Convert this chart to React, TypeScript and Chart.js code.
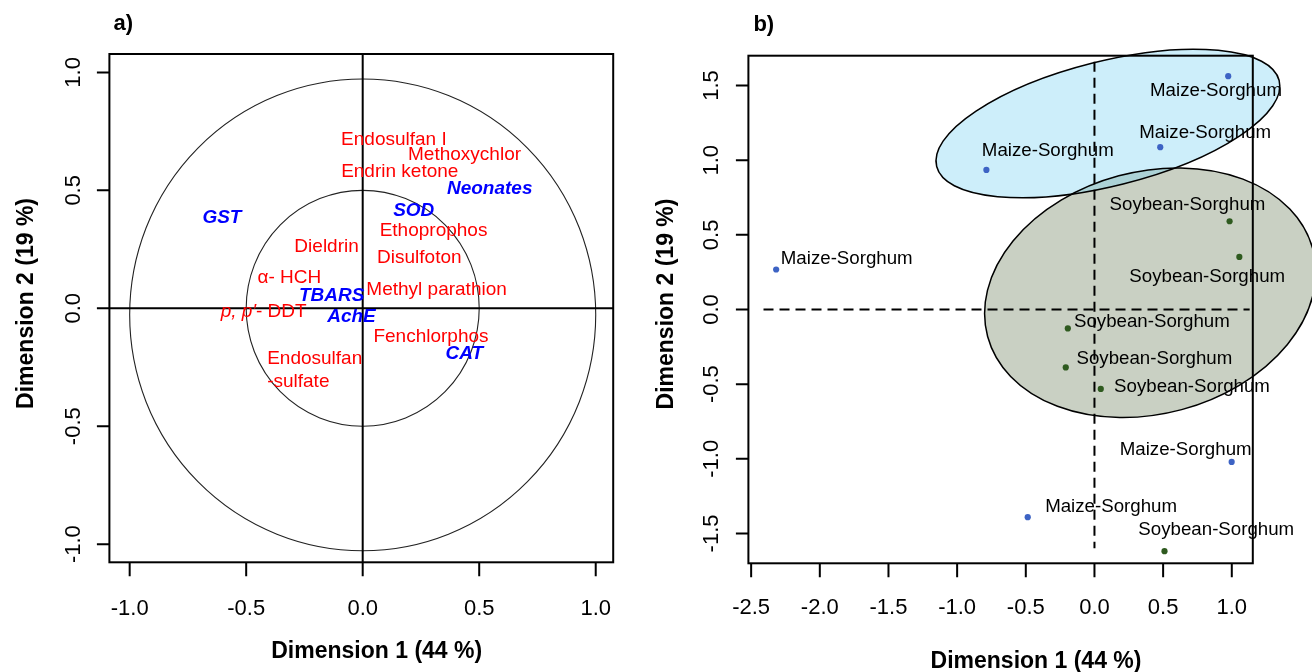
import React, { useEffect, useRef } from 'react';
import { Chart, registerables } from 'chart.js';

Chart.register(...registerables);

const FAMILY = '"Liberation Sans", Arial, sans-serif';
const CAP = 0.35;

// ---------------- Panel a) : variables factor map ----------------
const VAR_NAMES = [
  'Endosulfan I', 'Methoxychlor', 'Endrin ketone', 'Neonates', 'SOD', 'GST',
  'Ethoprophos', 'Dieldrin', 'Disulfoton', 'α- HCH', 'TBARS', 'Methyl parathion',
  'p, p′- DDT', 'AchE', 'Fenchlorphos', 'CAT', 'Endosulfan\n-sulfate',
];
const VAR_ITALIC_PREFIX = ['', '', '', '', '', '', '', '', '', '', '', '', 'p, p′', '', '', '', ''];
const VAR_X = [0.134, 0.437, 0.159, 0.545, 0.219, -0.604, 0.304, -0.155, 0.243, -0.315, -0.133, 0.317, -0.425, -0.048, 0.293, 0.436, -0.206];
const VAR_Y = [0.72, 0.656, 0.584, 0.512, 0.42, 0.391, 0.334, 0.266, 0.222, 0.137, 0.061, 0.084, -0.007, -0.03, -0.114, -0.187, -0.258];
const VAR_TYPE = [
  'pesticide', 'pesticide', 'pesticide', 'biomarker', 'biomarker', 'biomarker',
  'pesticide', 'pesticide', 'pesticide', 'pesticide', 'biomarker', 'pesticide',
  'pesticide', 'biomarker', 'pesticide', 'biomarker', 'pesticide',
];
const CIRCLE_RADIUS = [1, 0.5];
const CIRCLE_CENTER_Y = [-0.028, 0];
const A_TICKS = [-1, -0.5, 0, 0.5, 1];
const A_TICK_LABELS = ['-1.0', '-0.5', '0.0', '0.5', '1.0'];
const A_X_RANGE = [-1.087, 1.075];
const A_Y_RANGE = [-1.077, 1.078];

// ---------------- Panel b) : individuals factor map ----------------
const GROUPS = ['Maize-Sorghum', 'Soybean-Sorghum'];
const GROUP_POINT_COLOR = ['#3d63c4', '#2e5a1f'];
const GROUP_FILL = ['rgba(130,212,242,0.4)', '#c9d0c3'];
const IND_GROUP = [0, 0, 0, 0, 0, 0, 1, 1, 1, 1, 1, 1];
const IND_X = [0.974, 0.479, -0.787, -2.318, 0.999, -0.486, 0.984, 1.055, -0.194, -0.209, 0.046, 0.51];
const IND_Y = [1.563, 1.087, 0.935, 0.268, -1.021, -1.391, 0.591, 0.352, -0.127, -0.388, -0.532, -1.619];
const IND_LABEL_X = [0.885, 0.806, -0.34, -1.804, 0.664, 0.121, 0.677, 0.821, 0.418, 0.436, 0.71, 0.887];
const IND_LABEL_Y = [1.473, 1.19, 1.071, 0.348, -0.932, -1.311, 0.709, 0.23, -0.072, -0.322, -0.507, -1.468];
const ELLIPSE_CX = [0.098, 0.406];
const ELLIPSE_CY = [1.246, 0.1125];
const ELLIPSE_U = [[1.247, 0.288], [1.184, 0.293]];
const ELLIPSE_V = [[-0.111, 0.405], [-0.229, 0.783]];
const REF_H_EXTENT = [-2.41, 1.13];
const REF_V_EXTENT = [-1.6, 1.66];
const B_X_TICKS = [-2.5, -2, -1.5, -1, -0.5, 0, 0.5, 1];
const B_X_TICK_LABELS = ['-2.5', '-2.0', '-1.5', '-1.0', '-0.5', '0.0', '0.5', '1.0'];
const B_Y_TICKS = [-1.5, -1, -0.5, 0, 0.5, 1, 1.5];
const B_Y_TICK_LABELS = ['-1.5', '-1.0', '-0.5', '0.0', '0.5', '1.0', '1.5'];
const B_X_RANGE = [-2.52, 1.153];
const B_Y_RANGE = [-1.7, 1.7];

const X_TITLE = 'Dimension 1 (44 %)';
const Y_TITLE = 'Dimension 2 (19 %)';

type Frame = {
  xTicks: number[]; xLabels: string[]; yTicks: number[]; yLabels: string[];
  tag: string; tagDx: number; tagY: number;
  xLabDy: number; yLabDx: number;
  xTitleDx: number; xTitleDy: number; yTitleDx: number; yTitleDy: number;
};

const FRAME_A: Frame = {
  xTicks: A_TICKS, xLabels: A_TICK_LABELS, yTicks: A_TICKS, yLabels: A_TICK_LABELS,
  tag: 'a)', tagDx: 4.2, tagY: 30,
  xLabDy: 45.2, yLabDx: -37.4,
  xTitleDx: 15.4, xTitleDy: 88, yTitleDx: -84.9, yTitleDy: -4.7,
};
const FRAME_B: Frame = {
  xTicks: B_X_TICKS, xLabels: B_X_TICK_LABELS, yTicks: B_Y_TICKS, yLabels: B_Y_TICK_LABELS,
  tag: 'b)', tagDx: 5, tagY: 31,
  xLabDy: 43.4, yLabDx: -38.2,
  xTitleDx: 35.4, xTitleDy: 96.4, yTitleDx: -83.9, yTitleDy: -5.5,
};

function capText(ctx: CanvasRenderingContext2D, text: string, x: number, y: number, size: number, weight = 'normal', align: CanvasTextAlign = 'center', style = 'normal') {
  ctx.font = `${style} ${weight} ${size}px ${FAMILY}`;
  ctx.textAlign = align;
  ctx.textBaseline = 'alphabetic';
  ctx.fillText(text, x, y + CAP * size);
}

function rotText(ctx: CanvasRenderingContext2D, text: string, x: number, y: number, size: number, weight = 'normal') {
  ctx.save();
  ctx.translate(x, y);
  ctx.rotate(-Math.PI / 2);
  capText(ctx, text, 0, 0, size, weight);
  ctx.restore();
}

function drawFrame(chart: any, f: Frame) {
  const { ctx, chartArea: a, scales } = chart;
  const xs = scales.x, ys = scales.y;
  ctx.save();
  ctx.strokeStyle = '#000';
  ctx.fillStyle = '#000';
  ctx.lineWidth = 2;
  ctx.strokeRect(a.left, a.top, a.right - a.left, a.bottom - a.top);
  ctx.beginPath();
  f.xTicks.forEach((v) => {
    const px = xs.getPixelForValue(v);
    ctx.moveTo(px, a.bottom);
    ctx.lineTo(px, a.bottom + 14);
  });
  f.yTicks.forEach((v) => {
    const py = ys.getPixelForValue(v);
    ctx.moveTo(a.left, py);
    ctx.lineTo(a.left - 12.5, py);
  });
  ctx.stroke();
  f.xTicks.forEach((v, i) => capText(ctx, f.xLabels[i], xs.getPixelForValue(v), a.bottom + f.xLabDy, 22));
  f.yTicks.forEach((v, i) => rotText(ctx, f.yLabels[i], a.left + f.yLabDx, ys.getPixelForValue(v), 22));
  const cx = (a.left + a.right) / 2, cy = (a.top + a.bottom) / 2;
  capText(ctx, X_TITLE, cx + f.xTitleDx, a.bottom + f.xTitleDy, 23, 'bold');
  rotText(ctx, Y_TITLE, a.left + f.yTitleDx, cy + f.yTitleDy, 23, 'bold');
  ctx.font = `bold 22px ${FAMILY}`;
  ctx.textAlign = 'left';
  ctx.textBaseline = 'alphabetic';
  ctx.fillText(f.tag, a.left + f.tagDx, f.tagY);
  ctx.restore();
}

const panelAPlugin = {
  id: 'panelA',
  beforeDatasetsDraw(chart: any) {
    const { ctx, chartArea: a, scales } = chart;
    const xs = scales.x, ys = scales.y;
    ctx.save();
    ctx.strokeStyle = '#222';
    ctx.lineWidth = 1.1;
    CIRCLE_RADIUS.forEach((r, i) => {
      const cx = xs.getPixelForValue(0);
      const cy = ys.getPixelForValue(CIRCLE_CENTER_Y[i]);
      const rx = xs.getPixelForValue(r) - xs.getPixelForValue(0);
      const ry = ys.getPixelForValue(0) - ys.getPixelForValue(r);
      ctx.beginPath();
      ctx.ellipse(cx, cy, rx, ry, 0, 0, Math.PI * 2);
      ctx.stroke();
    });
    ctx.strokeStyle = '#000';
    ctx.lineWidth = 2;
    const x0 = xs.getPixelForValue(0), y0 = ys.getPixelForValue(0);
    ctx.beginPath();
    ctx.moveTo(a.left, y0); ctx.lineTo(a.right, y0);
    ctx.moveTo(x0, a.top); ctx.lineTo(x0, a.bottom);
    ctx.stroke();
    ctx.restore();
    drawFrame(chart, FRAME_A);
  },
  afterDatasetsDraw(chart: any) {
    const { ctx, scales } = chart;
    const xs = scales.x, ys = scales.y;
    const size = 19;
    ctx.save();
    VAR_NAMES.forEach((name, i) => {
      const px = xs.getPixelForValue(VAR_X[i]);
      const py = ys.getPixelForValue(VAR_Y[i]);
      const bio = VAR_TYPE[i] === 'biomarker';
      ctx.fillStyle = bio ? '#0000ff' : '#ff0000';
      const weight = bio ? 'bold' : 'normal';
      const style = bio ? 'italic' : 'normal';
      const lines = name.split('\n');
      if (lines.length > 1) {
        ctx.font = `${size}px ${FAMILY}`;
        const w = Math.max(...lines.map((l) => ctx.measureText(l).width));
        const lh = 23.3;
        lines.forEach((l, k) => {
          capText(ctx, l, px - w / 2, py + (k - (lines.length - 1) / 2) * lh, size, weight, 'left', style);
        });
      } else if (VAR_ITALIC_PREFIX[i]) {
        const pre = VAR_ITALIC_PREFIX[i];
        const rest = name.slice(pre.length);
        ctx.font = `italic ${size}px ${FAMILY}`;
        const w1 = ctx.measureText(pre).width;
        ctx.font = `${size}px ${FAMILY}`;
        const w2 = ctx.measureText(rest).width;
        const left = px - (w1 + w2) / 2;
        capText(ctx, pre, left, py, size, 'normal', 'left', 'italic');
        capText(ctx, rest, left + w1, py, size, 'normal', 'left', 'normal');
      } else {
        capText(ctx, name, px, py, size, weight, 'center', style);
      }
    });
    ctx.restore();
  },
};

const panelBPlugin = {
  id: 'panelB',
  beforeDatasetsDraw(chart: any) {
    const { ctx, scales } = chart;
    const xs = scales.x, ys = scales.y;
    ctx.save();
    const order = [1, 0];
    const paths = order.map((g) => {
      const cx = xs.getPixelForValue(ELLIPSE_CX[g]);
      const cy = ys.getPixelForValue(ELLIPSE_CY[g]);
      const ux = xs.getPixelForValue(ELLIPSE_CX[g] + ELLIPSE_U[g][0]) - cx;
      const uy = ys.getPixelForValue(ELLIPSE_CY[g] + ELLIPSE_U[g][1]) - cy;
      const vx = xs.getPixelForValue(ELLIPSE_CX[g] + ELLIPSE_V[g][0]) - cx;
      const vy = ys.getPixelForValue(ELLIPSE_CY[g] + ELLIPSE_V[g][1]) - cy;
      return { g, cx, cy, ux, uy, vx, vy };
    });
    const trace = (p: any) => {
      ctx.beginPath();
      ctx.save();
      ctx.transform(p.ux, p.uy, p.vx, p.vy, p.cx, p.cy);
      ctx.arc(0, 0, 1, 0, Math.PI * 2);
      ctx.restore();
    };
    paths.forEach((p) => {
      trace(p);
      ctx.fillStyle = GROUP_FILL[p.g];
      ctx.fill();
    });
    paths.forEach((p) => {
      trace(p);
      ctx.strokeStyle = '#000';
      ctx.lineWidth = 1.5;
      ctx.stroke();
    });
    ctx.restore();
    drawFrame(chart, FRAME_B);
    ctx.save();
    ctx.strokeStyle = '#000';
    ctx.lineWidth = 2;
    ctx.setLineDash([10, 6]);
    ctx.beginPath();
    ctx.moveTo(xs.getPixelForValue(REF_H_EXTENT[0]), ys.getPixelForValue(0));
    ctx.lineTo(xs.getPixelForValue(REF_H_EXTENT[1]), ys.getPixelForValue(0));
    ctx.stroke();
    ctx.beginPath();
    ctx.moveTo(xs.getPixelForValue(0), ys.getPixelForValue(REF_V_EXTENT[1]));
    ctx.lineTo(xs.getPixelForValue(0), ys.getPixelForValue(REF_V_EXTENT[0]));
    ctx.stroke();
    ctx.restore();
  },
  afterDatasetsDraw(chart: any) {
    const { ctx, scales } = chart;
    const xs = scales.x, ys = scales.y;
    ctx.save();
    ctx.fillStyle = '#000';
    IND_GROUP.forEach((g, i) => {
      capText(ctx, GROUPS[g], xs.getPixelForValue(IND_LABEL_X[i]), ys.getPixelForValue(IND_LABEL_Y[i]), 18.7);
    });
    ctx.restore();
  },
};

function baseOptions(xr: number[], yr: number[], pad: any) {
  return {
    responsive: false,
    maintainAspectRatio: false,
    animation: false as const,
    devicePixelRatio: 1,
    events: [],
    layout: { padding: pad },
    plugins: { legend: { display: false }, tooltip: { enabled: false }, title: { display: false } },
    scales: {
      x: { type: 'linear' as const, min: xr[0], max: xr[1], display: false },
      y: { type: 'linear' as const, min: yr[0], max: yr[1], display: false },
    },
  };
}

const LEFT_W = 656, RIGHT_LEFT = 620, RIGHT_W = 692, H = 672;

export default function App() {
  const refA = useRef<HTMLCanvasElement>(null);
  const refB = useRef<HTMLCanvasElement>(null);

  useEffect(() => {
    const chartA = new Chart(refA.current as HTMLCanvasElement, {
      type: 'scatter',
      data: {
        datasets: [{
          data: VAR_X.map((x, i) => ({ x, y: VAR_Y[i] })),
          pointRadius: 0,
        }],
      },
      options: baseOptions(A_X_RANGE, A_Y_RANGE, { left: 109.4, right: LEFT_W - 613.2, top: 54, bottom: H - 562.3 }) as any,
      plugins: [panelAPlugin],
    });
    const chartB = new Chart(refB.current as HTMLCanvasElement, {
      type: 'scatter',
      data: {
        datasets: GROUPS.map((name, g) => ({
          label: name,
          data: IND_X.map((x, i) => ({ x, y: IND_Y[i], g: IND_GROUP[i] }))
            .filter((p) => p.g === g)
            .map((p) => ({ x: p.x, y: p.y })),
          pointRadius: 3.1,
          pointBorderWidth: 0,
          backgroundColor: GROUP_POINT_COLOR[g],
          borderColor: GROUP_POINT_COLOR[g],
          clip: false as any,
        })),
      },
      options: baseOptions(B_X_RANGE, B_Y_RANGE, {
        left: 748.4 - RIGHT_LEFT, right: 1312 - 1252.8, top: 55.7, bottom: H - 563.3,
      }) as any,
      plugins: [panelBPlugin],
    });
    return () => {
      chartA.destroy();
      chartB.destroy();
    };
  }, []);

  return (
    <div style={{ position: 'fixed', left: 0, top: 0, width: 1312, height: H, background: '#fff', overflow: 'hidden' }}>
      <canvas ref={refA} width={LEFT_W} height={H} style={{ position: 'absolute', left: 0, top: 0, width: LEFT_W, height: H }} />
      <canvas ref={refB} width={RIGHT_W} height={H} style={{ position: 'absolute', left: RIGHT_LEFT, top: 0, width: RIGHT_W, height: H }} />
    </div>
  );
}
